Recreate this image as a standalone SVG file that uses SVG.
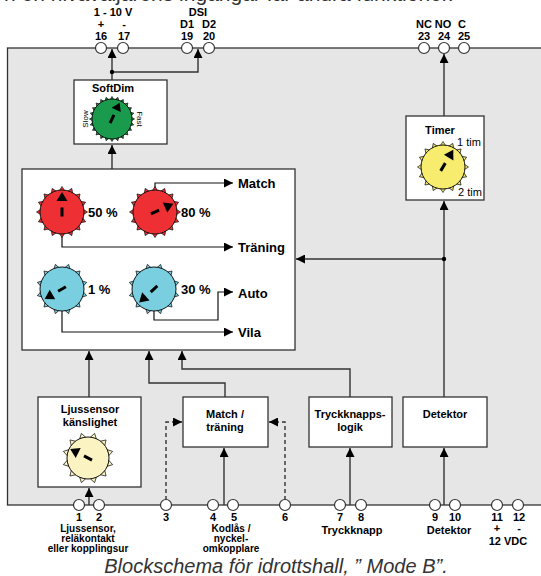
<svg xmlns="http://www.w3.org/2000/svg" xmlns:xlink="http://www.w3.org/1999/xlink" width="541" height="576" viewBox="0 0 541 576">
<style>
text{font-family:"Liberation Sans",Arial,sans-serif;fill:#000}
.b{font-weight:bold;font-size:11px}
.bs{font-weight:bold;font-size:10px}
.m{font-weight:bold;font-size:13px}
.s{font-size:11px}
.box{fill:#fff;stroke:#333;stroke-width:1.3}
.c{fill:none;stroke:#333;stroke-width:1.4}
.ci{fill:none;stroke:#111;stroke-width:1.2}
.d{stroke-dasharray:4 3}
.term{fill:#fff;stroke:#333;stroke-width:1.2}
.teeth{stroke:#111;stroke-width:0.7}
.kc{stroke:#111;stroke-width:1}
</style>
<defs>
<marker id="ar" viewBox="0 0 10 10" refX="10" refY="5" markerWidth="9" markerHeight="9" markerUnits="userSpaceOnUse" orient="auto"><path d="M0,0 L10,5 L0,10Z" fill="#000"/></marker>
<path id="t" d="M-3.2,-20.5 L0,-25.5 L3.2,-20.5Z"/>
<path id="tg" d="M-2.3,-18.5 L0,-22.5 L2.3,-18.5Z"/>
<g id="r16"><use href="#t"/><use href="#t" transform="rotate(22.5)"/><use href="#t" transform="rotate(45)"/><use href="#t" transform="rotate(67.5)"/><use href="#t" transform="rotate(90)"/><use href="#t" transform="rotate(112.5)"/><use href="#t" transform="rotate(135)"/><use href="#t" transform="rotate(157.5)"/><use href="#t" transform="rotate(180)"/><use href="#t" transform="rotate(202.5)"/><use href="#t" transform="rotate(225)"/><use href="#t" transform="rotate(247.5)"/><use href="#t" transform="rotate(270)"/><use href="#t" transform="rotate(292.5)"/><use href="#t" transform="rotate(315)"/><use href="#t" transform="rotate(337.5)"/></g>
<g id="r12"><use href="#t" transform="rotate(15)"/><use href="#t" transform="rotate(45)"/><use href="#t" transform="rotate(75)"/><use href="#t" transform="rotate(105)"/><use href="#t" transform="rotate(135)"/><use href="#t" transform="rotate(165)"/><use href="#t" transform="rotate(195)"/><use href="#t" transform="rotate(225)"/><use href="#t" transform="rotate(255)"/><use href="#t" transform="rotate(285)"/><use href="#t" transform="rotate(315)"/><use href="#t" transform="rotate(345)"/></g>
<g id="r24"><use href="#tg"/><use href="#tg" transform="rotate(15)"/><use href="#tg" transform="rotate(30)"/><use href="#tg" transform="rotate(45)"/><use href="#tg" transform="rotate(60)"/><use href="#tg" transform="rotate(75)"/><use href="#tg" transform="rotate(90)"/><use href="#tg" transform="rotate(105)"/><use href="#tg" transform="rotate(120)"/><use href="#tg" transform="rotate(135)"/><use href="#tg" transform="rotate(150)"/><use href="#tg" transform="rotate(165)"/><use href="#tg" transform="rotate(180)"/><use href="#tg" transform="rotate(195)"/><use href="#tg" transform="rotate(210)"/><use href="#tg" transform="rotate(225)"/><use href="#tg" transform="rotate(240)"/><use href="#tg" transform="rotate(255)"/><use href="#tg" transform="rotate(270)"/><use href="#tg" transform="rotate(285)"/><use href="#tg" transform="rotate(300)"/><use href="#tg" transform="rotate(315)"/><use href="#tg" transform="rotate(330)"/><use href="#tg" transform="rotate(345)"/></g>
<g id="p22" fill="#000"><rect x="-1.5" y="-4.5" width="3" height="9"/><path d="M0,-20 L-5.5,-11 L5.5,-11Z"/></g>
<g id="p20" fill="#000"><rect x="-1.5" y="-4.5" width="3" height="9"/><path d="M0,-18 L-5,-10 L5,-10Z"/></g>
</defs>

<text x="4" y="1" style="font-size:21px;fill:#333">n en nivåväljarens ingångar får andra funktioner.</text>

<rect x="7.5" y="48" width="540" height="457" fill="#e6e6e6" stroke="#333" stroke-width="1.3"/>

<g id="connectors">
<path class="c" d="M112,80 V49" marker-end="url(#ar)"/>
<path class="c" d="M112,72 H198 V49" marker-end="url(#ar)"/>
<circle cx="112" cy="72" r="2.2" fill="#000"/>
<path class="c" d="M112,169 V145" marker-end="url(#ar)"/>
<path class="c" d="M444,116 V54" marker-end="url(#ar)"/>
<path class="c" d="M444,397 V201" marker-end="url(#ar)"/>
<path class="c" d="M444,259 H296" marker-end="url(#ar)"/>
<circle cx="444" cy="259" r="2.2" fill="#000"/>
<path class="c" d="M89,397 V351" marker-end="url(#ar)"/>
<path class="c" d="M225,397 V383 H149 V351" marker-end="url(#ar)"/>
<path class="c" d="M350,397 V369 H182 V351" marker-end="url(#ar)"/>
<path class="c" d="M89,505 V488" marker-end="url(#ar)"/>
<path class="c" d="M224,505 V448" marker-end="url(#ar)"/>
<path class="c" d="M350,505 V448" marker-end="url(#ar)"/>
<path class="c" d="M444,505 V448" marker-end="url(#ar)"/>
<path class="c d" d="M166,500 V422 H182" marker-end="url(#ar)"/>
<path class="c d" d="M285,500 V422 H269" marker-end="url(#ar)"/>
</g>

<g id="terminals-top">
<circle class="term" cx="101" cy="48" r="5.5"/><circle class="term" cx="123" cy="48" r="5.5"/>
<circle class="term" cx="187" cy="48" r="5.5"/><circle class="term" cx="209" cy="48" r="5.5"/>
<circle class="term" cx="424" cy="48" r="5.5"/><circle class="term" cx="444" cy="48" r="5.5"/><circle class="term" cx="464" cy="48" r="5.5"/>
<g class="b" text-anchor="middle">
<text x="113" y="16">1 - 10 V</text><text x="101" y="28">+</text><text x="124" y="28">-</text><text x="101" y="40">16</text><text x="124" y="40">17</text>
<text x="198" y="16">DSI</text><text x="187" y="28">D1</text><text x="209" y="28">D2</text><text x="187" y="40">19</text><text x="209" y="40">20</text>
<text x="424" y="28">NC</text><text x="443" y="28">NO</text><text x="462" y="28">C</text><text x="424" y="40">23</text><text x="444" y="40">24</text><text x="464" y="40">25</text>
</g>
</g>

<g id="softdim">
<rect class="box" x="74" y="80" width="93" height="64"/>
<text class="b" x="113" y="92" text-anchor="middle">SoftDim</text>
<g transform="translate(112,119)"><use href="#r24" class="teeth" fill="#1a9a4c"/><circle r="20" fill="#1a9a4c" class="kc"/><use href="#p20" transform="rotate(25)"/></g>
<text transform="translate(88,119) rotate(-90)" text-anchor="middle" style="font-size:8px">Slow</text>
<text transform="translate(137,119) rotate(90)" text-anchor="middle" style="font-size:8px">Fast</text>
</g>

<g id="timer">
<rect class="box" x="406" y="116" width="78" height="84"/>
<text class="b" x="440" y="134" text-anchor="middle">Timer</text>
<g transform="translate(443,167)"><use href="#r16" class="teeth" fill="#f7ec6e"/><circle r="22" fill="#f7ec6e" class="kc"/><use href="#p22" transform="rotate(31)"/></g>
<text class="s" x="457" y="146">1 tim</text>
<text class="s" x="458" y="196">2 tim</text>
</g>

<g id="levels">
<rect class="box" x="22" y="169" width="273" height="181"/>
<path class="ci" d="M155,190 V183 H233" marker-end="url(#ar)"/>
<path class="ci" d="M62,234 V247 H233" marker-end="url(#ar)"/>
<path class="ci" d="M154,311 V320 H218 V292 H233" marker-end="url(#ar)"/>
<path class="ci" d="M62,311 V332 H233" marker-end="url(#ar)"/>
<g transform="translate(62,212)"><use href="#r16" class="teeth" fill="#ee3035"/><circle r="22" fill="#ee3035" class="kc"/><use href="#p22"/></g>
<g transform="translate(155,212)"><use href="#r16" class="teeth" fill="#ee3035"/><circle r="22" fill="#ee3035" class="kc"/><use href="#p22" transform="rotate(66)"/></g>
<g transform="translate(62,289)"><use href="#r12" class="teeth" fill="#79cfe0"/><circle r="22" fill="#79cfe0" class="kc"/><use href="#p22" transform="rotate(240)"/></g>
<g transform="translate(154,289)"><use href="#r12" class="teeth" fill="#79cfe0"/><circle r="22" fill="#79cfe0" class="kc"/><use href="#p22" transform="rotate(228)"/></g>
<g class="m"><text x="88" y="217">50 %</text><text x="181" y="217">80 %</text><text x="88" y="294">1 %</text><text x="181" y="294">30 %</text>
<text x="238" y="188">Match</text><text x="238" y="252">Träning</text><text x="238" y="298">Auto</text><text x="238" y="337">Vila</text></g>
</g>

<g id="ljussensor">
<rect class="box" x="38" y="397" width="103" height="90"/>
<text class="b" x="90" y="413" text-anchor="middle">Ljussensor</text>
<text class="b" x="90" y="426" text-anchor="middle">känslighet</text>
<g transform="translate(88,458)"><use href="#r12" class="teeth" fill="#fbf4c2"/><circle r="21" fill="#fbf4c2" class="kc"/><use href="#p22" transform="rotate(297)"/></g>
</g>

<g id="match-traning">
<rect class="box" x="183" y="397" width="85" height="50"/>
<text class="b" x="225" y="418" text-anchor="middle">Match /</text>
<text class="b" x="225" y="431" text-anchor="middle">träning</text>
</g>

<g id="tryckknappslogik">
<rect class="box" x="309" y="397" width="83" height="50"/>
<text class="b" x="350" y="418" text-anchor="middle">Tryckknapps-</text>
<text class="b" x="350" y="431" text-anchor="middle">logik</text>
</g>

<g id="detektor">
<rect class="box" x="403" y="397" width="84" height="50"/>
<text class="b" x="445" y="418" text-anchor="middle">Detektor</text>
</g>

<g id="terminals-bottom">
<circle class="term" cx="79" cy="505" r="5.5"/><circle class="term" cx="99" cy="505" r="5.5"/>
<circle class="term" cx="166" cy="505" r="5.5"/>
<circle class="term" cx="213" cy="505" r="5.5"/><circle class="term" cx="233" cy="505" r="5.5"/>
<circle class="term" cx="285" cy="505" r="5.5"/>
<circle class="term" cx="340" cy="505" r="5.5"/><circle class="term" cx="361" cy="505" r="5.5"/>
<circle class="term" cx="435" cy="505" r="5.5"/><circle class="term" cx="455" cy="505" r="5.5"/>
<circle class="term" cx="497" cy="505" r="5.5"/><circle class="term" cx="518" cy="505" r="5.5"/>
<g class="b" text-anchor="middle">
<text x="79" y="521">1</text><text x="99" y="521">2</text><text x="166" y="521">3</text><text x="213" y="521">4</text><text x="234" y="521">5</text><text x="285" y="521">6</text>
<text x="340" y="521">7</text><text x="361" y="521">8</text><text x="435" y="521">9</text><text x="455" y="521">10</text><text x="497" y="521">11</text><text x="519" y="521">12</text>
<text x="352" y="534">Tryckknapp</text><text x="449" y="534">Detektor</text>
<text x="497" y="532">+</text><text x="519" y="532">-</text><text x="508" y="545">12 VDC</text>
</g>
<g class="bs" text-anchor="middle">
<text x="88" y="532">Ljussensor,</text><text x="88" y="542">reläkontakt</text><text x="88" y="552">eller kopplingsur</text>
<text x="231" y="532">Kodlås /</text><text x="231" y="542">nyckel-</text><text x="231" y="552">omkopplare</text>
</g>
</g>

<text x="276" y="573" text-anchor="middle" style="font-size:20px;font-style:italic;fill:#333">Blockschema för idrottshall, ” Mode B”.</text>
</svg>
